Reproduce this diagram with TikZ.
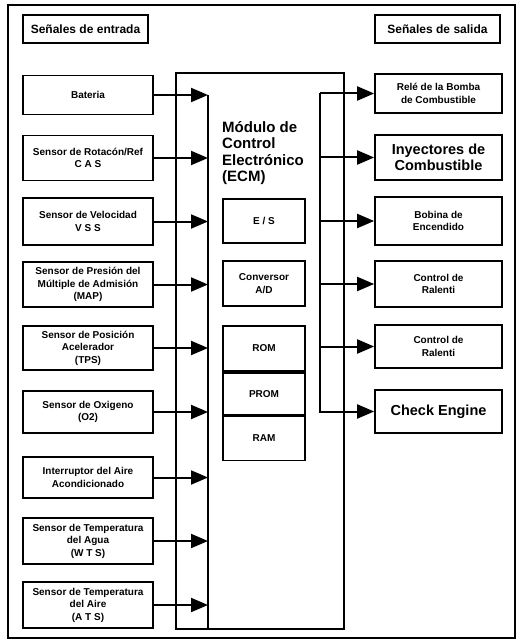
\documentclass[tikz,border=0pt]{standalone}
\usepackage{fontspec}
\setmainfont{Liberation Sans}
\usetikzlibrary{arrows.meta,positioning}

\begin{document}
\begin{tikzpicture}[x=1pt,y=-1pt]
        \tikzset{box/.style={draw, line width=1.7pt, align=center, inner sep=1pt,
                 font=\fontsize{10}{12.5}\selectfont\bfseries},
                 inbox/.style={box, minimum width=130pt},
                 outbox/.style={box, minimum width=127pt},
                 ecmbox/.style={box, minimum width=82pt},
                 big/.style={font=\fontsize{14.5}{16.5}\selectfont\bfseries},
                 sig/.style={-{Triangle[length=17pt, width=14pt]}, line width=2pt}}
        \useasboundingbox (0,0) rectangle (523,644);

        % frame and headers
        \draw[line width=2.2pt] (8,5) rectangle (515,638);
        \node[box, font=\fontsize{12}{14}\selectfont\bfseries, minimum width=125pt, minimum height=28pt] (hin) at (85.5,29) {Señales de entrada};
        \node[box, font=\fontsize{12}{14}\selectfont\bfseries, minimum width=125pt, minimum height=28pt] (hout) at (437.5,29) {Señales de salida};

        % ECM
        \node[draw, line width=1.7pt, minimum width=168pt, minimum height=556pt, inner sep=0pt] (ecm) at (260,351) {};
        \coordinate (ecmL) at (208,95);
        \coordinate (ecmR) at (320,93);
        \draw[line width=1.7pt] (ecmL) -- (ecmL |- ecm.south);
        \node[big, font=\fontsize{15}{16.5}\selectfont\bfseries, align=left, anchor=north west, inner sep=0pt] (title) at (222,121) {Módulo de\\Control\\Electrónico\\(ECM)};
        \node[ecmbox, minimum height=44pt] (es) at (264,221) {E / S};
        \node[ecmbox, minimum height=45pt] (ad) at (264,283.5) {Conversor\\A/D};
        \node[ecmbox, minimum height=45pt] (rom) at (264,348.5) {ROM};
        \node[ecmbox, minimum height=42pt, below=0pt of rom] (prom) {PROM};
        \node[ecmbox, minimum height=44pt, below=0pt of prom] (ram) {RAM};

        % input signals
        \node[inbox, minimum height=39pt] (bat) at (88,95) {Bateria};
        \node[inbox, minimum height=45pt] (cas) at (88,158) {Sensor de Rotacón/Ref\\C A S};
        \node[inbox, minimum height=47pt] (vss) at (88,221.5) {Sensor de Velocidad\\V S S};
        \node[inbox, minimum height=45pt] (map) at (88,284.5) {Sensor de Presión del\\Múltiple de Admisión\\(MAP)};
        \node[inbox, minimum height=44pt] (tps) at (88,348) {Sensor de Posición\\Acelerador\\(TPS)};
        \node[inbox, minimum height=42pt] (oxi) at (88,412) {Sensor de Oxigeno\\(O2)};
        \node[inbox, minimum height=41pt] (aac) at (88,477.5) {Interruptor del Aire\\Acondicionado};
        \node[inbox, minimum height=46pt] (wts) at (88,541) {Sensor de Temperatura\\del Agua\\(W T S)};
        \node[inbox, minimum height=46pt] (ats) at (88,605) {Sensor de Temperatura\\del Aire\\(A T S)};
        \foreach \n in {bat,cas,vss,map,tps,oxi,aac,wts,ats}
            \draw[sig] (\n.east) -- (\n.east -| ecmL);

        % output signals
        \node[outbox, minimum height=39pt] (rele) at (438.5,93.5) {Relé de la Bomba\\de Combustible};
        \node[outbox, big, minimum height=45pt] (iny) at (438.5,157.5) {Inyectores de\\Combustible};
        \node[outbox, minimum height=48pt] (bob) at (438.5,221) {Bobina de\\Encendido};
        \node[outbox, minimum height=46pt] (ral1) at (438.5,284) {Control de\\Ralenti};
        \node[outbox, minimum height=43pt] (ral2) at (438.5,346.5) {Control de\\Ralenti};
        \node[outbox, big, minimum height=43pt] (chk) at (438.5,411.5) {Check Engine};
        \draw[sig] (ecmR) |- (chk.west);
        \foreach \n in {rele,iny,bob,ral1,ral2}
            \draw[sig] (ecmR |- \n.west) -- (\n.west);
\end{tikzpicture}
\end{document}
